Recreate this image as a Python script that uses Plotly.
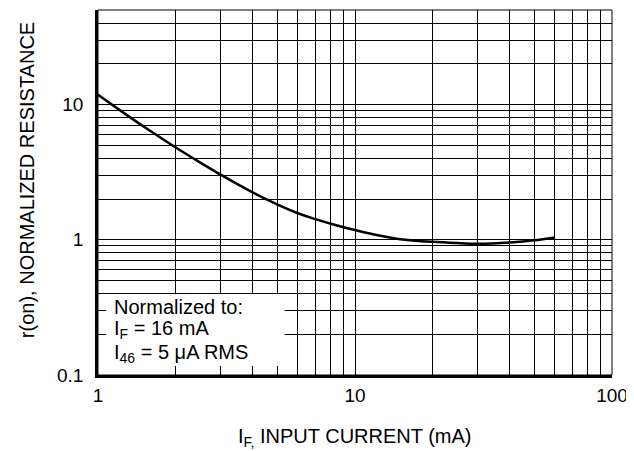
import plotly.graph_objects as go

# Curve data
current_ma = [1, 1.25, 1.5, 2, 2.5, 3, 4, 5, 6, 7, 8, 10, 12, 15, 20, 25, 30, 40, 50, 60]
norm_resistance = [11.8, 8.75, 6.9, 4.83, 3.72, 3.03, 2.24, 1.82, 1.57, 1.42, 1.32, 1.18,
                   1.09, 1.01, 0.965, 0.945, 0.935, 0.955, 0.99, 1.04]

# Grid/tick values and labels
x_tickvals = [1, 2, 3, 4, 5, 6, 7, 8, 9, 10, 20, 30, 40, 50, 60, 70, 80, 90, 100]
x_ticktext = ["1", "", "", "", "", "", "", "", "", "10", "", "", "", "", "", "", "", "", "100"]
y_tickvals = [0.1, 0.2, 0.3, 0.4, 0.5, 0.6, 0.7, 0.8, 0.9, 1, 2, 3, 4, 5, 6, 7, 8, 9, 10, 20, 30, 40, 50]
y_ticktext = ["0.1", "", "", "", "", "", "", "", "", "1", "", "", "", "", "", "", "", "", "10", "", "", "", ""]

note_lines = ["Normalized to:", "I<sub>F</sub> = 16 mA", "I<sub>46</sub> = 5 μA RMS"]

FONT = "Liberation Sans, Arial, Helvetica, sans-serif"

fig = go.Figure()
fig.add_trace(go.Scatter(x=current_ma, y=norm_resistance, mode="lines",
                         line=dict(color="black", width=2.5, shape="spline", smoothing=0.8),
                         showlegend=False, hoverinfo="skip"))

fig.update_xaxes(type="log", range=[0, 2], tickvals=x_tickvals, ticktext=x_ticktext,
                 showgrid=True, gridcolor="black", gridwidth=1,
                 showline=True, linecolor="black", linewidth=2.5,
                 ticks="", ticklabelstandoff=1,
                 tickfont=dict(family=FONT, size=19, color="black"), zeroline=False)
fig.update_yaxes(type="log", range=[-1, 1.69897], tickvals=y_tickvals, ticktext=y_ticktext,
                 showgrid=True, gridcolor="black", gridwidth=1,
                 showline=True, linecolor="black", linewidth=2.5,
                 ticks="", ticklabelstandoff=8,
                 tickfont=dict(family=FONT, size=19, color="black"), zeroline=False)

shapes = [
    dict(type="rect", xref="paper", yref="paper", x0=0, x1=1, y0=0, y1=1,
         line=dict(color="black", width=1), fillcolor="rgba(0,0,0,0)", layer="above"),
    dict(type="rect", xref="paper", yref="paper", x0=0.016, x1=0.363, y0=0.025, y1=0.221,
         line=dict(width=0), fillcolor="white", layer="above"),
]

annotations = [
    dict(text="I<sub>F,</sub> INPUT CURRENT (mA)", xref="paper", yref="paper",
         x=0.5, y=-0.17, xanchor="center", yanchor="middle", showarrow=False,
         font=dict(family=FONT, size=20, color="black")),
    dict(text="r(on), NORMALIZED RESISTANCE", xref="paper", yref="paper",
         x=-0.138, y=0.534, xanchor="center", yanchor="middle", textangle=-90, showarrow=False,
         font=dict(family=FONT, size=20, color="black")),
]
note_y = [0.187, 0.124, 0.060]
for txt, yy in zip(note_lines, note_y):
    annotations.append(dict(text=txt, xref="paper", yref="paper", x=0.028, y=yy,
                            xanchor="left", yanchor="middle", showarrow=False,
                            font=dict(family=FONT, size=20, color="black")))

fig.update_layout(width=626, height=443, margin=dict(l=90, r=22, t=2, b=76),
                  paper_bgcolor="white", plot_bgcolor="white",
                  shapes=shapes, annotations=annotations)

fig.write_html("out.html")
